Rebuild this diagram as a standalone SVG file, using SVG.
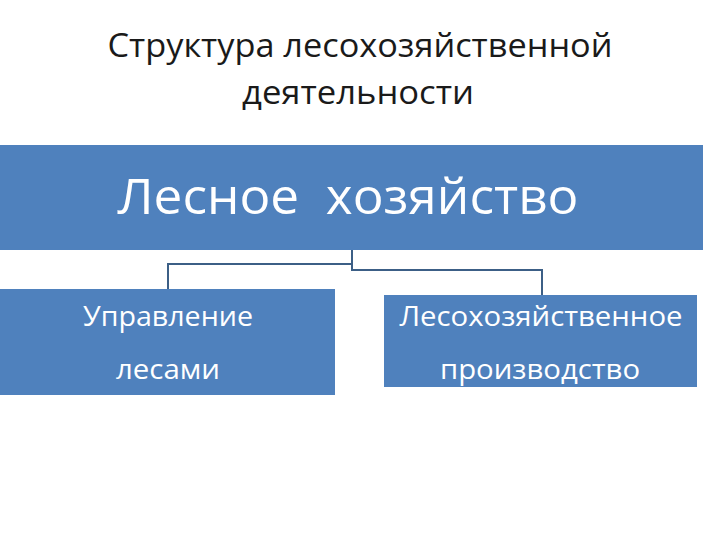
<svg xmlns="http://www.w3.org/2000/svg" width="720" height="540" viewBox="0 0 720 540">
<style>
.t{font-family:"Open Sans","Liberation Sans",sans-serif;text-anchor:middle}
.box{fill:#4F81BD}
.w{fill:#FFFFFF}
.c{fill:none;stroke:#3C5F86;stroke-width:2}
</style>
<rect width="720" height="540" fill="#FFFFFF"/>
<g id="title">
<text class="t" x="360" y="57" font-size="33" fill="#1A1A1A" textLength="505" lengthAdjust="spacingAndGlyphs">Структура лесохозяйственной</text>
<text class="t" x="358" y="104" font-size="33" fill="#1A1A1A" textLength="232" lengthAdjust="spacingAndGlyphs">деятельности</text>
</g>
<g id="connectors">
<polyline class="c" points="352,250 352,264 168,264 168,289"/>
<polyline class="c" points="352,264 352,270 542,270 542,295"/>
</g>
<g id="node-top">
<rect class="box" x="0" y="145" width="703" height="105"/>
<text class="t w" x="348" y="214" font-size="50" textLength="461" lengthAdjust="spacingAndGlyphs" xml:space="preserve">Лесное  хозяйство</text>
</g>
<g id="node-left">
<rect class="box" x="0" y="289" width="335" height="106"/>
<text class="t w" x="168" y="326" font-size="28" textLength="170" lengthAdjust="spacingAndGlyphs">Управление</text>
<text class="t w" x="168" y="379" font-size="28" textLength="104" lengthAdjust="spacingAndGlyphs">лесами</text>
</g>
<g id="node-right">
<rect class="box" x="384" y="295" width="313" height="92"/>
<text class="t w" x="541" y="326" font-size="28" textLength="283" lengthAdjust="spacingAndGlyphs">Лесохозяйственное</text>
<text class="t w" x="540" y="379" font-size="28" textLength="200" lengthAdjust="spacingAndGlyphs">производство</text>
</g>
</svg>
